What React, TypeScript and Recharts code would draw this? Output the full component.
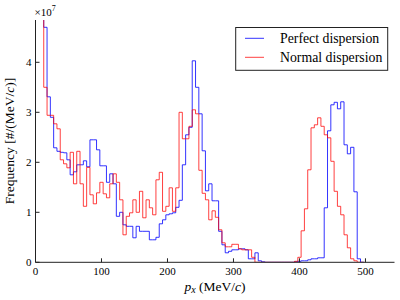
import React from "react";
import { LineChart, Line, XAxis, YAxis } from "recharts";

const FONT = "'Liberation Serif', 'DejaVu Serif', serif";

// histogram bins: left edge of first bin and bin width (MeV/c)
const BIN_START = -2.5;
const BIN_WIDTH = 5;

// frequency per bin, in units of 1e7
const perfectCounts = [
    6.5, 6.0, 5.3, 4.7, 3.31, 2.9, 2.29, 2.22, 2.2, 2.19,
    2.05, 1.75, 1.81, 1.95, 1.95, 2.03, 1.91, 2.45, 2.45, 2.25,
    1.93, 1.93, 1.6, 1.77, 1.57, 0.92, 1.0, 0.75, 0.72, 0.72,
    0.49, 0.72, 0.62, 0.62, 0.62, 0.45, 0.45, 0.5, 0.77, 0.85,
    0.95, 0.97, 0.99, 1.1, 1.24, 1.95, 2.55, 2.7, 4.03, 3.5,
    2.97, 2.23, 1.43, 1.57, 1.23, 1.23, 0.62, 0.35, 0.19, 0.22,
    0.25, 0.25, 0.27, 0.27, 0.25, 0.07, 0.07, 0.19, 0.03, 0.01,
    0, 0, 0, 0, 0, 0, 0, 0, 0, 0.01,
    0.02, 0.03, 0.03, 0.05, 0.07, 0.07, 0.09, 0.09, 1.09, 2.63,
    3.15, 3.2, 3.07, 3.21, 2.35, 2.17, 2.3, 1.41, 0.07, 0,
];

const normalCounts = [
    7.0, 6.2, 5.5, 3.5, 2.94, 2.94, 2.77, 2.67, 2.05, 1.97,
    1.89, 2.2, 1.57, 2.22, 1.57, 1.12, 1.9, 1.35, 1.17, 1.39,
    1.6, 1.37, 1.29, 1.57, 1.77, 1.6, 1.25, 0.55, 0.92, 0.99,
    1.25, 1.0, 1.42, 0.89, 1.25, 1.09, 0.95, 1.65, 1.8, 1.02,
    1.12, 1.49, 1.02, 1.49, 3.0, 2.47, 2.47, 2.72, 3.05, 2.97,
    1.84, 1.38, 1.25, 0.85, 1.03, 0.9, 0.65, 0.39, 0.31, 0.31,
    0.36, 0.36, 0.27, 0.25, 0.25, 0.25, 0.1, 0, 0, 0,
    0, 0, 0, 0, 0, 0, 0, 0, 0, 0.02,
    0.1, 0.63, 1.07, 1.85, 2.69, 2.75, 2.89, 2.72, 2.55, 2.49,
    2.02, 1.42, 1.12, 0.95, 0.55, 0.29, 0.07, 0.03, 0, 0,
];

const xTicks = [0, 100, 200, 300, 400, 500];
const yTicks = [0, 1, 2, 3, 4];

const seriesNames = ["Perfect dispersion", "Normal dispersion"];
const seriesColors = ["#0000ff", "#ff0000"];
const seriesOpacity = [0.8, 0.75];

const rows = perfectCounts.map((v, i) => ({
    px: BIN_START + i * BIN_WIDTH,
    perfect: v,
    normal: normalCounts[i],
}));
// closing edge of the last bin
rows.push({ px: BIN_START + perfectCounts.length * BIN_WIDTH, perfect: 0, normal: 0 });

const AXIS_COLOR = "#222";

// tick labels drawn by hand so the serif font sticks
const BottomTick = (props: any) => {
    const { x, y, payload } = props;
    return (
        <text x={x} y={y + 8} textAnchor="middle" fontSize={11} fontFamily={FONT} fill="#000">
            {payload.value}
        </text>
    );
};

const LeftTick = (props: any) => {
    const { x, y, payload } = props;
    return (
        <text x={x} y={y + 3.8} textAnchor="end" fontSize={11} fontFamily={FONT} fill="#000">
            {payload.value}
        </text>
    );
};

const NoTick = () => <g />;

export default function App() {
    return (
        <div
            style={{
                position: "absolute",
                left: 0,
                top: 0,
                width: 400,
                height: 300,
                background: "#fff",
                fontFamily: FONT,
            }}
        >
            <LineChart
                width={400}
                height={300}
                data={rows}
                margin={{ top: 20, right: 5.5, bottom: 0, left: 0 }}
            >
                <XAxis
                    xAxisId="b"
                    type="number"
                    dataKey="px"
                    domain={[0, 544]}
                    ticks={xTicks}
                    interval={0}
                    allowDataOverflow
                    height={37.7}
                    tickSize={-4}
                    tickMargin={9}
                    stroke={AXIS_COLOR}
                    tick={<BottomTick />}
                />
                <XAxis
                    xAxisId="t"
                    type="number"
                    dataKey="px"
                    orientation="top"
                    domain={[0, 544]}
                    ticks={xTicks}
                    interval={0}
                    allowDataOverflow
                    height={0}
                    tickSize={-4}
                    stroke={AXIS_COLOR}
                    tick={<NoTick />}
                />
                <YAxis
                    yAxisId="l"
                    type="number"
                    domain={[0, 4.846]}
                    ticks={yTicks}
                    interval={0}
                    allowDataOverflow
                    width={35.5}
                    tickSize={-4}
                    tickMargin={8}
                    stroke={AXIS_COLOR}
                    tick={<LeftTick />}
                />
                <YAxis
                    yAxisId="r"
                    type="number"
                    orientation="right"
                    domain={[0, 4.846]}
                    ticks={yTicks}
                    interval={0}
                    allowDataOverflow
                    width={0}
                    tickSize={-4}
                    stroke={AXIS_COLOR}
                    tick={<NoTick />}
                />
                <Line
                    xAxisId="b"
                    yAxisId="l"
                    type="stepAfter"
                    dataKey="perfect"
                    stroke={seriesColors[0]}
                    strokeOpacity={seriesOpacity[0]}
                    strokeWidth={1}
                    dot={false}
                    isAnimationActive={false}
                />
                <Line
                    xAxisId="b"
                    yAxisId="l"
                    type="stepAfter"
                    dataKey="normal"
                    stroke={seriesColors[1]}
                    strokeOpacity={seriesOpacity[1]}
                    strokeWidth={1}
                    dot={false}
                    isAnimationActive={false}
                />
            </LineChart>
            <svg
                width={400}
                height={300}
                style={{ position: "absolute", left: 0, top: 0, pointerEvents: "none" }}
                fontFamily={FONT}
            >
                {/* offset text above the y axis */}
                <text x={34.5} y={15.5} fontSize={11} fill="#000">
                    ×10
                    <tspan fontSize={8} dy={-5}>7</tspan>
                </text>
                {/* y axis title */}
                <text
                    transform="translate(13.5,141) rotate(-90)"
                    textAnchor="middle"
                    fontSize={13.5}
                    fill="#000"
                >
                    Frequency [#/(MeV/<tspan fontStyle="italic">c</tspan>)]
                </text>
                {/* x axis title */}
                <text x={215} y={290.5} textAnchor="middle" fontSize={13.5} fill="#000">
                    <tspan fontStyle="italic">p</tspan>
                    <tspan fontStyle="italic" fontSize={10} dy={2.5}>x</tspan>
                    <tspan dy={-2.5}> (MeV/</tspan>
                    <tspan fontStyle="italic">c</tspan>)
                </text>
                {/* legend */}
                <rect x={235.7} y={27.5} width={152} height={42.8} fill="#fff" stroke={AXIS_COLOR} strokeWidth={1} />
                {seriesNames.map((name, i) => (
                    <g key={name}>
                        <line
                            x1={245}
                            x2={264}
                            y1={38.3 + i * 19}
                            y2={38.3 + i * 19}
                            stroke={seriesColors[i]}
                            strokeOpacity={seriesOpacity[i]}
                        />
                        <text x={280} y={43 + i * 19} fontSize={13.8} fill="#000">
                            {name}
                        </text>
                    </g>
                ))}
            </svg>
        </div>
    );
}
